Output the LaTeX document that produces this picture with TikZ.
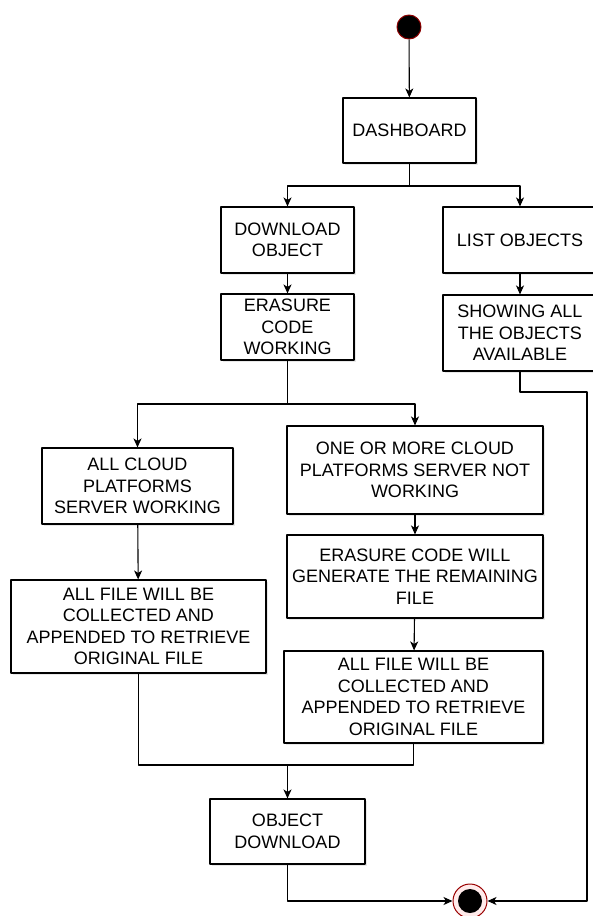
\documentclass[tikz,border=0pt]{standalone}
\usepackage{fontspec}
\setmainfont{Liberation Sans}
\usetikzlibrary{shadows,arrows.meta}
\begin{document}
\begin{tikzpicture}[x=1pt,y=-1pt,line join=round,>={Stealth[length=9pt,width=8pt,inset=2.5pt]},line width=1.1pt]
                \tikzset{box/.style={draw,fill=white,align=center,inner sep=2pt,font=\fontsize{18}{21.5}\selectfont,drop shadow={opacity=0.18,shadow xshift=1.5pt,shadow yshift=-1.5pt}},
                         startdot/.style={circle,fill=black,draw=red!55!black,line width=1pt,minimum size=24pt,inner sep=0pt}}
                \useasboundingbox (0,0) rectangle (592,916);
                \node[startdot] (start) at (409,27) {};
                \node[box,minimum width=133pt,minimum height=65pt] (dash) at (409.5,130.5) {DASHBOARD};
                \node[box,minimum width=133pt,minimum height=66pt] (down) at (287.5,240) {DOWNLOAD\\OBJECT};
                \node[box,minimum width=154pt,minimum height=66pt] (list) at (520,240) {LIST OBJECTS};
                \node[box,minimum width=133pt,minimum height=66pt] (erase) at (287.5,327) {ERASURE\\CODE\\WORKING};
                \node[box,minimum width=154pt,minimum height=76pt] (show) at (520,333) {SHOWING ALL\\THE OBJECTS\\AVAILABLE};
                \node[box,minimum width=191pt,minimum height=76pt] (allok) at (137.5,486) {ALL CLOUD\\PLATFORMS\\SERVER WORKING};
                \node[box,minimum width=256pt,minimum height=88pt] (notok) at (415,470) {ONE OR MORE CLOUD\\PLATFORMS SERVER NOT\\WORKING};
                \node[box,minimum width=256pt,minimum height=83pt] (regen) at (415,576.5) {ERASURE CODE WILL\\GENERATE THE REMAINING\\FILE};
                \node[box,minimum width=255pt,minimum height=93pt] (collL) at (138.5,626.5) {ALL FILE WILL BE\\COLLECTED AND\\APPENDED TO RETRIEVE\\ORIGINAL FILE};
                \node[box,minimum width=259pt,minimum height=92pt] (collR) at (413.5,697) {ALL FILE WILL BE\\COLLECTED AND\\APPENDED TO RETRIEVE\\ORIGINAL FILE};
                \node[box,minimum width=155pt,minimum height=65pt] (objdl) at (287.5,831.5) {OBJECT\\DOWNLOAD};
                \node[circle,fill=red!8,draw=red!60!black,line width=1pt,minimum size=34pt,inner sep=0pt] (end) at (470,901) {};
                \node[circle,fill=black,minimum size=24pt,inner sep=0pt] at (end) {};
                \coordinate (b1) at (409.5,186);
                \coordinate (b2) at (287.5,404);
                \coordinate (b3) at (287.5,765);
                \coordinate (r1) at (587,392);
                \draw[->] (start) -- (dash);
                \draw (dash) -- (b1);
                \draw[->] (b1) -| (down);
                \draw[->] (b1) -| (list);
                \draw[->] (down) -- (erase);
                \draw[->] (list) -- (show);
                \draw[->] (show.south) |- (r1) |- (end);
                \draw (erase) -- (b2);
                \draw[->] (b2) -| (allok);
                \draw[->] (b2) -| (notok);
                \draw[->] (allok) -- (collL);
                \draw[->] (notok) -- (regen);
                \draw[->] (regen) -- (collR);
                \draw (collL.south) |- (b3);
                \draw (collR.south) |- (b3);
                \draw[->] (b3) -- (objdl);
                \draw[->] (objdl.south) |- (end);
            \end{tikzpicture}
\end{document}
